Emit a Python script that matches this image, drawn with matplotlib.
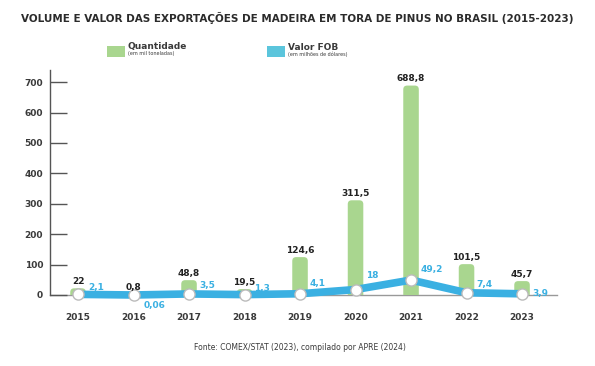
import matplotlib.pyplot as plt
from matplotlib.patches import FancyBboxPatch, Rectangle
import numpy as np

# data
years = ['2015', '2016', '2017', '2018', '2019', '2020', '2021', '2022', '2023']
quantidade = [22, 0.8, 48.8, 19.5, 124.6, 311.5, 688.8, 101.5, 45.7]
valor_fob = [2.1, 0.06, 3.5, 1.3, 4.1, 18, 49.2, 7.4, 3.9]
y_ticks = [0, 100, 200, 300, 400, 500, 600, 700]

# label offsets (pixels) for the blue values, right of each marker
lbl_dy = [7, -11, 8, 6, 10, 14, 11, 8, 0]

green = '#a9d68f'
blue = '#3ab0e2'
dark = '#3a3a3a'

def fmt(v):
  return ('%g' % v).replace('.', ',')

fig = plt.figure(figsize=(5.95, 3.66), dpi=100)
ax = fig.add_axes([50/595, 1 - 295/366, (557 - 50)/595, (295 - 70)/366])

x = np.arange(len(years))
bar_w = 0.28
y_max = 740
x_lo, x_hi = -0.505, 8.63
ax.set_xlim(x_lo, x_hi)
ax.set_ylim(0, y_max)

# aspect of data units (y per pixel / x per pixel) for rounded bar tops
y_per_px = y_max / 225.0
x_per_px = (x_hi - x_lo) / 507.0
aspect = y_per_px / x_per_px

for xi, q in zip(x, quantidade):
  p = FancyBboxPatch((xi - bar_w/2, -30), bar_w, q + 30,
                     boxstyle='round,pad=0,rounding_size=0.07',
                     mutation_aspect=aspect, fc=green, ec='none', zorder=2)
  ax.add_patch(p)
  ax.text(xi, q + 8, fmt(q), ha='center', va='bottom', fontsize=6.5,
          fontweight='bold', color='#222222', zorder=5)

ax.plot(x, valor_fob, color=blue, lw=5.5, solid_joinstyle='miter', zorder=3, clip_on=False)
ax.plot(x, valor_fob, 'o', ms=8, mfc='white', mec='#bbbbbb', mew=1, zorder=4, clip_on=False)

px = 0.72  # points per pixel at 100 dpi
for xi, v, dy in zip(x, valor_fob, lbl_dy):
  ax.annotate(fmt(v), (xi, v), xytext=(10 * px, dy * px), textcoords='offset points',
              ha='left', va='center', fontsize=6.5, fontweight='bold', color=blue,
              zorder=5, annotation_clip=False)

ax.spines['top'].set_visible(False)
ax.spines['right'].set_visible(False)
ax.spines['left'].set_color('#555555')
ax.spines['left'].set_linewidth(1)
ax.spines['bottom'].set_color('#999999')
ax.spines['bottom'].set_linewidth(1)
ax.spines['bottom'].set_zorder(1)

ax.set_yticks(y_ticks)
ax.set_yticklabels([str(t) for t in y_ticks])
ax.tick_params(axis='y', direction='in', length=12, width=1, color='#555555',
               labelsize=6.5, labelcolor=dark, pad=5)
ax.set_xticks(x)
ax.set_xticklabels(years)
ax.tick_params(axis='x', length=0, labelsize=6.5, labelcolor=dark, pad=13)
for lab in ax.get_xticklabels() + ax.get_yticklabels():
  lab.set_fontweight('bold')

# title
fig.text(0.5, 1 - 18/366, 'VOLUME E VALOR DAS EXPORTAÇÕES DE MADEIRA EM TORA DE PINUS NO BRASIL (2015-2023)',
         ha='center', va='center', fontsize=7.5, fontweight='bold', color='#2b2b2b')

# legend
fig.patches.append(Rectangle((107/595, 1 - 57/366), 18/595, 11/366, transform=fig.transFigure,
                             fc=green, ec='none'))
fig.text(128/595, 1 - 47/366, 'Quantidade', fontsize=6.5, fontweight='bold', color=dark, va='center')
fig.text(128/595, 1 - 54/366, '(em mil toneladas)', fontsize=3.5, color=dark, va='center')
fig.patches.append(Rectangle((267/595, 1 - 57/366), 18/595, 11/366, transform=fig.transFigure,
                             fc='#5bc5dc', ec='none'))
fig.text(288/595, 1 - 47/366, 'Valor FOB', fontsize=6.5, fontweight='bold', color=dark, va='center')
fig.text(288/595, 1 - 54/366, '(em milhões de dólares)', fontsize=3.5, color=dark, va='center')

# source
fig.text(300/595, 1 - 348/366, 'Fonte: COMEX/STAT (2023), compilado por APRE (2024)',
         ha='center', va='center', fontsize=5.5, color=dark)

fig.savefig('out.png', dpi=100)
